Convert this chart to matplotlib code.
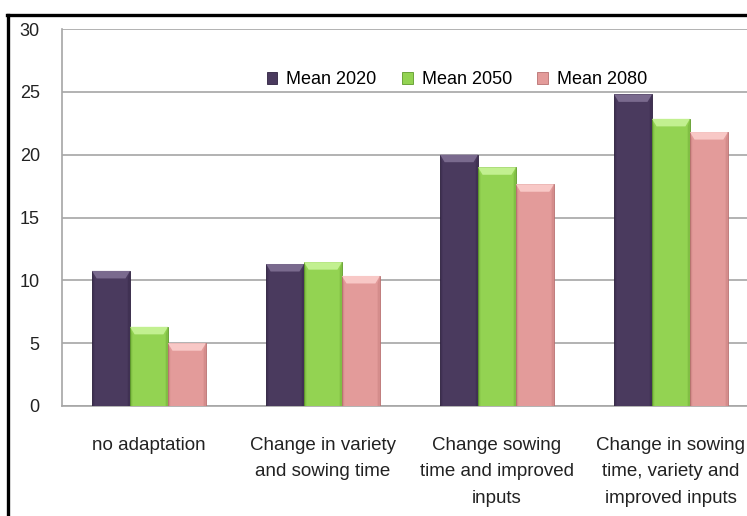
import matplotlib
matplotlib.use("Agg")
import matplotlib.pyplot as plt
from matplotlib.lines import Line2D
from matplotlib.patches import Polygon
import numpy as np

categories = ["no adaptation", "Change in variety\nand sowing time",
              "Change sowing\ntime and improved\ninputs",
              "Change in sowing\ntime, variety and\nimproved inputs"]
series_names = ["Mean 2020", "Mean 2050", "Mean 2080"]
mean_2020 = [10.75, 11.3, 20.0, 24.8]
mean_2050 = [6.3, 11.45, 19.0, 22.85]
mean_2080 = [5.0, 10.35, 17.65, 21.8]
yticks = [0, 5, 10, 15, 20, 25, 30]

colors = ["#4a3a5e", "#93d352", "#e39b9a"]
light = ["#7a6a8e", "#c2f090", "#f8c8c6"]
dark = ["#2e2240", "#5e9a2a", "#b87070"]

plt.rcParams['font.family'] = ['Liberation Sans', 'DejaVu Sans']

fig = plt.figure(figsize=(7.47, 5.16), dpi=100)
ax = fig.add_axes([62/747, 110/516, 696/747, 377/516])

x = np.arange(len(categories))
w = 0.218
all_series = [mean_2020, mean_2050, mean_2080]
for i, (vals, name) in enumerate(zip(all_series, series_names)):
    bars = ax.bar(x + (i - 1) * w, vals, w, color=colors[i], edgecolor=dark[i],
                  linewidth=0.6, label=name, zorder=3)
    for b in bars:
        x0, y0 = b.get_x(), b.get_y()
        bw, bh = b.get_width(), b.get_height()
        inset = bw * 0.12
        dy = 0.6
        ax.add_patch(Polygon([[x0, y0 + bh], [x0 + bw, y0 + bh],
                              [x0 + bw - inset, y0 + bh - dy], [x0 + inset, y0 + bh - dy]],
                             closed=True, facecolor=light[i], edgecolor='none', zorder=4))
        ax.add_patch(Polygon([[x0, y0], [x0, y0 + bh], [x0 + inset * 0.5, y0 + bh - dy],
                              [x0 + inset * 0.5, y0]],
                             closed=True, facecolor=dark[i], alpha=0.35, edgecolor='none', zorder=4))
        ax.add_patch(Polygon([[x0 + bw, y0], [x0 + bw, y0 + bh], [x0 + bw - inset * 0.5, y0 + bh - dy],
                              [x0 + bw - inset * 0.5, y0]],
                             closed=True, facecolor=dark[i], alpha=0.35, edgecolor='none', zorder=4))

ax.set_xlim(-0.5, 3.5)
ax.set_ylim(0, 30)
ax.set_yticks(yticks)
ax.set_yticklabels([str(t) for t in yticks], fontsize=13, color='#222222')
ax.set_xticks(x)
ax.set_xticklabels(categories, fontsize=13.5, linespacing=1.76, color='#222222',
                   va='top', ha='center', multialignment='center')
ax.tick_params(axis='both', length=0)
ax.tick_params(axis='y', pad=16)
ax.tick_params(axis='x', pad=22)
ax.grid(axis='y', color='#a6a6a6', linewidth=1.2, zorder=0)
for s in ['top', 'right']:
    ax.spines[s].set_visible(False)
for s in ['left', 'bottom']:
    ax.spines[s].set_color('#a6a6a6')
    ax.spines[s].set_linewidth(1.2)

ax.legend(loc='center', bbox_to_anchor=(457/747, (516-80)/516), bbox_transform=fig.transFigure,
          ncol=3, frameon=False, fontsize=13, handlelength=0.6, handleheight=0.6,
          handletextpad=0.5, columnspacing=1.4)

fig.add_artist(Line2D([8/747, 8/747], [0, (516-15)/516], color='black', linewidth=2.4))
fig.add_artist(Line2D([7/747, 1], [(516-15)/516, (516-15)/516], color='black', linewidth=2.4))

fig.savefig("out.png", dpi=100)
